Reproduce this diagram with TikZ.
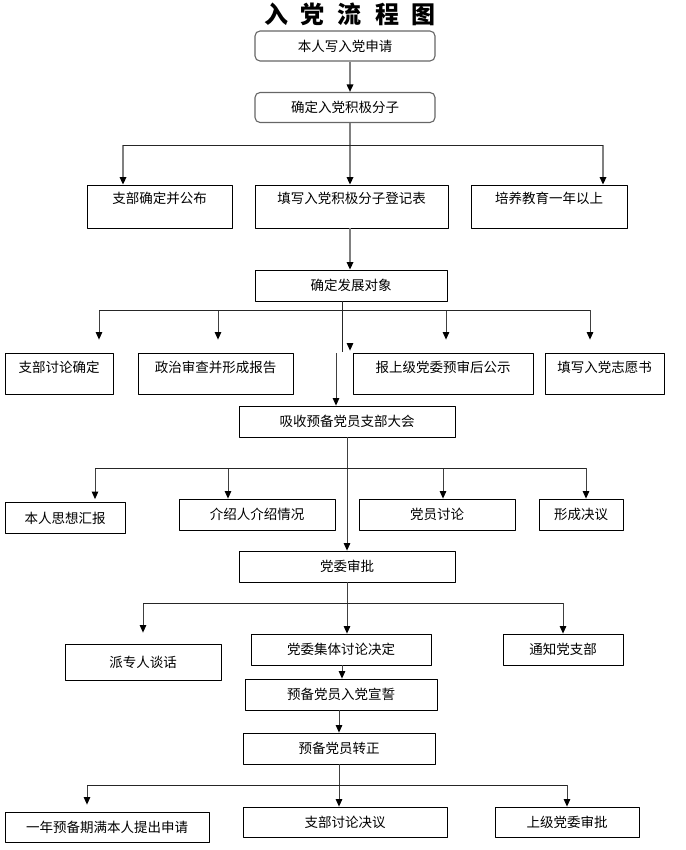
\documentclass[tikz,border=0pt]{standalone}
\usepackage{fontspec}
\newfontfamily\cjk{Noto Sans CJK SC}
\usetikzlibrary{arrows.meta}

\begin{document}
\begin{tikzpicture}[x=1pt,y=-1pt,line join=round,font=\cjk\fontsize{13.5}{16}\selectfont,
	box/.style={draw=black,line width=0.8pt,inner sep=0pt,minimum height=31pt},
	rbox/.style={box,draw=black!60,line width=1.1pt,rounded corners=5pt,minimum height=30pt},
	tallbox/.style={box,text height=19pt,text depth=#1},
	tallbox/.default=24pt,
	link/.style={draw=black!75,line width=0.9pt,-{Triangle[width=6.5pt,length=7.5pt,color=black]}},
	glink/.style={link,draw=gray,line width=1.6pt},
	bus/.style={draw=black!85,line width=0.8pt}]
	\useasboundingbox (0,0) rectangle (685,850);
	% title
	\node[font=\cjk\bfseries\fontsize{24}{26}\selectfont] (title) at (350,14) {\spaceskip=13pt 入 党 流 程 图};
	% boxes
	\node[rbox,minimum width=180pt] (app) at (345,46) {本人写入党申请};
	\node[rbox,minimum width=180pt] (act) at (345,107.5) {确定入党积极分子};
	\foreach \n/\x/\w/\t in {pub/159.5/145pt/支部确定并公布,reg/351.5/193pt/填写入党积极分子登记表,edu/549/156pt/培养教育一年以上}
		\node[tallbox,minimum width=\w] (\n) at (\x,206.5) {\t};
	\node[box,minimum width=192pt] (dev) at (351,285.5) {确定发展对象};
	\foreach \n/\x/\w/\t in {disc/59/108pt/支部讨论确定,pol/215.5/155pt/政治审查并形成报告,rep/443/180pt/报上级党委预审后公示,vol/604.5/119pt/填写入党志愿书}
		\node[tallbox=22pt,minimum width=\w] (\n) at (\x,373.5) {\t};
	\node[box,minimum width=216pt] (mem) at (347,421.5) {吸收预备党员支部大会};
	\foreach \n/\x/\y/\w/\t in {tho/65/518/120pt/本人思想汇报,intr/257/514.5/156pt/介绍人介绍情况,mdis/437/514.5/156pt/党员讨论,res/581/514.5/84pt/形成决议}
		\node[box,minimum width=\w] (\n) at (\x,\y) {\t};
	\node[box,minimum width=216pt] (appr) at (347,566.5) {党委审批};
	\node[box,minimum width=156pt,minimum height=36pt] (talk) at (143,662) {派专人谈话};
	\node[box,minimum width=180pt] (coll) at (341,649.5) {党委集体讨论决定};
	\node[box,minimum width=120pt] (note) at (563,649.5) {通知党支部};
	\node[box,minimum width=192pt] (oath) at (341,694.5) {预备党员入党宣誓};
	\node[box,minimum width=192pt] (full) at (339,748.5) {预备党员转正};
	\node[box,minimum width=204pt,minimum height=30pt] (req) at (107,827) {一年预备期满本人提出申请};
	\node[box,minimum width=204pt,minimum height=30pt] (bdec) at (345,822) {支部讨论决议};
	\node[box,minimum width=144pt,minimum height=30pt] (sup) at (567,822) {上级党委审批};
	% connectors
	\path (350,145) coordinate (j1) (342,352) coordinate (k1) (336,353) coordinate (k2) (350,343) coordinate (k3)
		(347,468) coordinate (j3) (347,603) coordinate (j4) (342,0) coordinate (j5) (339,785) coordinate (j6);
	\draw[glink] (app.south -| j1) -- (act.north -| j1);
	\draw[glink,-] (act.south -| j1) -- (j1);
	\foreach \n/\x in {pub/123,reg/350,edu/603}{
		\coordinate (d-\n) at (\x,145);
		\draw[glink] (d-\n) -- (\n.north -| d-\n);}
	\draw[bus] (d-pub) -- (d-edu);
	\draw[glink] (reg.south -| j1) -- (dev.north -| j1);
	\draw[bus] (dev.south -| k1) -- (k1);
	\foreach \n/\x in {disc/99,pol/218,rep/446,vol/590}{
		\coordinate (d-\n) at (\x,310);
		\draw[link,shorten >=13pt] (d-\n) -- (\n.north -| d-\n);}
	\draw[bus] (d-disc) -- (d-vol);
	\draw[link,shorten >=2pt] (k3) -- (rep.north -| k3);
	\draw[link] (k2) -- (mem.north -| k2);
	\draw[link] (mem.south -| j3) -- (appr.north -| j3);
	\foreach \n/\x/\g in {tho/95/3pt,intr/228/0pt,mdis/443/0pt,res/586/0pt}{
		\coordinate (d-\n) at (\x,468);
		\draw[link,shorten >=\g] (d-\n) -- (\n.north -| d-\n);}
	\draw[bus] (d-tho) -- (d-res);
	\draw[link] (appr.south -| j4) -- (coll.north -| j4);
	\foreach \n/\x/\g in {talk/143/11pt,note/563/0pt}{
		\coordinate (d-\n) at (\x,603);
		\draw[link,shorten >=\g] (d-\n) -- (\n.north -| d-\n);}
	\draw[bus] (d-talk) -- (d-note);
	\draw[link] (coll.south -| j5) -- (oath.north -| j5);
	\draw[link] (oath.south -| j6) -- (full.north -| j6);
	\draw[link] (full.south -| j6) -- (bdec.north -| j6);
	\foreach \n/\x/\g in {req/87/7pt,sup/567/0pt}{
		\coordinate (d-\n) at (\x,785);
		\draw[link,shorten >=\g] (d-\n) -- (\n.north -| d-\n);}
	\draw[bus] (d-req) -- (d-sup);
\end{tikzpicture}
\end{document}
